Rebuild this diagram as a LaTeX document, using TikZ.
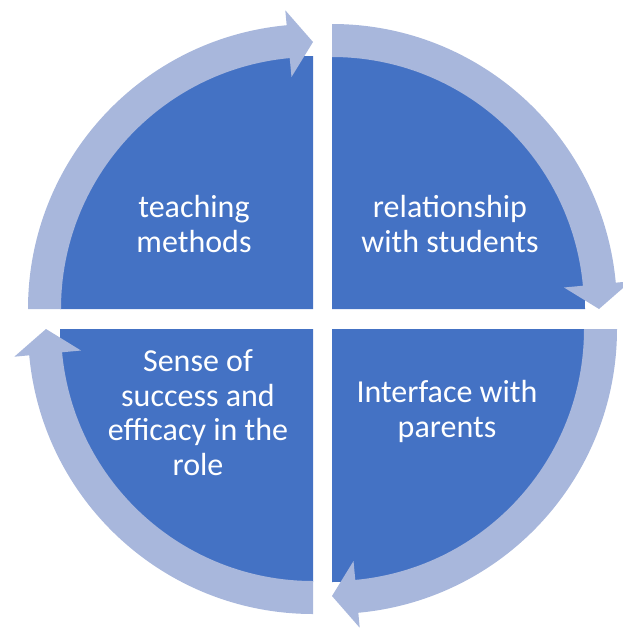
\documentclass[tikz,border=0pt]{standalone}
\usepackage{fontspec}
\setmainfont{Carlito}
\definecolor{quadblue}{RGB}{68,114,196}
\definecolor{ringblue}{RGB}{168,183,220}
\tikzset{
  quad/.style={fill=quadblue},
  ringarrow/.style={fill=ringblue},
  lbl/.style={text=white, font=\fontsize{32}{34.5}\selectfont, align=center, anchor=base, inner sep=0pt}
}
\newcommand{\cyclearrow}[4]{%
  \begin{scope}[shift={(#1,#2)}]
    \pgfmathsetmacro{\headang}{#4+5.3}
    \fill[ringarrow] (#3:285) arc[start angle=#3, end angle=\headang, radius=285]
      -- (\headang:300) -- (#4:267) -- (\headang:233) -- (\headang:252)
      arc[start angle=\headang, end angle=#3, radius=252] -- cycle;
  \end{scope}}
\begin{document}
\begin{tikzpicture}[x=1pt,y=1pt]
\useasboundingbox (0,0) rectangle (623,-632);
% quadrants
\fill[quad] (313,-309) -- ++(-253,0) arc[start angle=180, end angle=90, radius=253] -- cycle;
\fill[quad] (332,-309) -- ++(0,253) arc[start angle=90, end angle=0, radius=253] -- cycle;
\fill[quad] (332,-329) -- ++(253,0) arc[start angle=0, end angle=-90, radius=253] -- cycle;
\fill[quad] (313,-329) -- ++(0,-253) arc[start angle=270, end angle=180, radius=253] -- cycle;
% cycle arrows
\cyclearrow{313}{-309}{180}{90}
\cyclearrow{332}{-309}{90}{0}
\cyclearrow{332}{-329}{0}{-90}
\cyclearrow{313}{-329}{270}{180}
% labels (anchor = baseline of last line)
\node[lbl] (tm) at (194,-252) {teaching\\methods};
\node[lbl] (rs) at (450,-252) {relationship\\with students};
\node[lbl] (ip) at (447,-437) {Interface with\\parents};
\node[lbl] (ss) at (198,-475) {Sense of\\success and\\efficacy in the\\role};
\end{tikzpicture}
\end{document}
